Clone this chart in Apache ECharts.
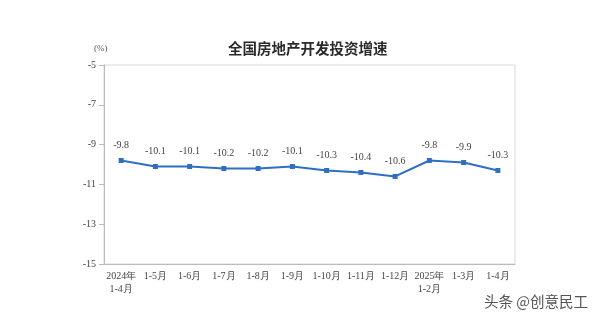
<!DOCTYPE html>
<html><head><meta charset="utf-8">
<script src="https://cdn.jsdelivr.net/npm/echarts@6/dist/echarts.min.js"></script>
<style>html,body{margin:0;padding:0;background:#fff}#c{width:600px;height:331px}</style>
</head><body><div id="c"></div>
<script>
const categories = ['2024年\n1-4月','1-5月','1-6月','1-7月','1-8月','1-9月','1-10月','1-11月','1-12月','2025年\n1-2月','1-3月','1-4月'];
const values = [-9.8,-10.1,-10.1,-10.2,-10.2,-10.1,-10.3,-10.4,-10.6,-9.8,-9.9,-10.3];
const yTicks = [-5,-7,-9,-11,-13,-15];
const serif = '"Liberation Serif","DejaVu Serif",serif';
const chart = echarts.init(document.getElementById('c'));
chart.setOption({
  animation:false,
  backgroundColor:'#fff',
  title:{text:'全国房地产开发投资增速',left:223,top:36,textStyle:{fontFamily:'"Noto Sans CJK SC"',fontSize:14.5,fontWeight:'bold',color:'#2a2a2a'}},
  graphic:[
    {type:'text',left:94,top:44,style:{text:'(%)',font:'9px '+serif,fill:'#555'}},
    {type:'text',right:12,top:294,style:{text:'头条 @创意民工',font:'14.5px "Noto Sans CJK SC"',fill:'#555'}}
  ],
  grid:{left:104,right:85,top:65,bottom:67,show:true,borderColor:'#d8d8d8',borderWidth:1},
  xAxis:{type:'category',data:categories,boundaryGap:true,
    axisLine:{lineStyle:{color:'#bbb'}},
    axisTick:{inside:true,length:4,lineStyle:{color:'#bbb'}},
    axisLabel:{fontFamily:serif,fontSize:10,color:'#444',interval:0,lineHeight:13,margin:6}},
  yAxis:{type:'value',min:-15,max:-5,interval:2,
    axisLine:{show:true,lineStyle:{color:'#bbb'}},
    axisTick:{show:true,length:5,lineStyle:{color:'#bbb'}},
    splitLine:{show:false},
    axisLabel:{fontFamily:serif,fontSize:10,color:'#444',margin:8,
      formatter:v=>yTicks.includes(v)?String(v):''}},
  series:[{type:'line',data:values,symbol:'rect',symbolSize:5,
    lineStyle:{color:'#2f6fc2',width:2},itemStyle:{color:'#2f6fc2'},
    label:{show:true,position:'top',distance:8,fontFamily:serif,fontSize:10,color:'#444'}}]
});
</script></body></html>
